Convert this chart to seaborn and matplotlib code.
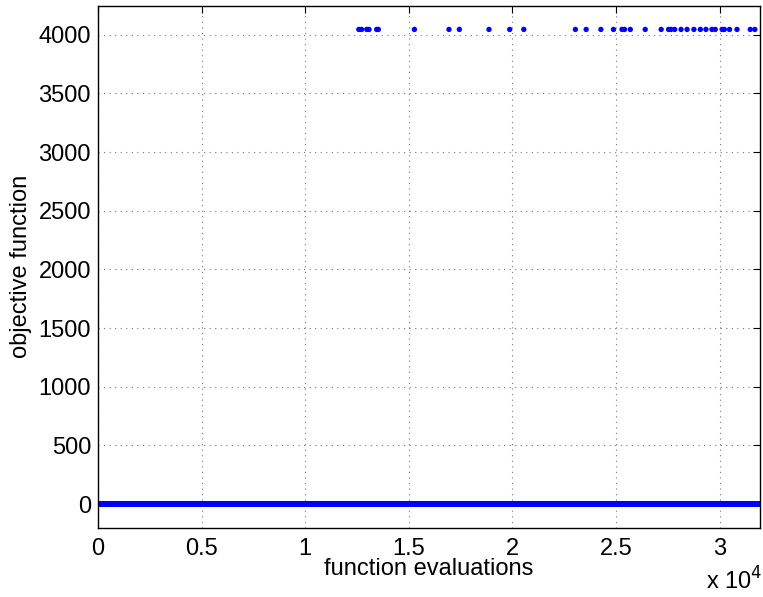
import numpy as np
import pandas as pd
import matplotlib
matplotlib.use("Agg")
import matplotlib.pyplot as plt
from matplotlib.ticker import FuncFormatter
import seaborn as sns

# ---- data ----
n_evaluations = 31950          # total number of function evaluations
base_value = 0                 # objective value of regular evaluations
penalty_value = 4046           # objective value of penalised evaluations
penalty_evals = [12590, 12720, 12970, 13080, 13450, 13530, 15270, 16940,
                 17440, 18870, 19870, 20550, 23040, 23560, 24270, 24880,
                 25290, 25410, 25690, 26410, 27180, 27540, 27650, 27830,
                 28140, 28430, 28760, 29070, 29340, 29630, 29790, 30120,
                 30230, 30480, 30840, 31480, 31700]
x_ticks = [0, 5000, 10000, 15000, 20000, 25000, 30000]
y_ticks = [0, 500, 1000, 1500, 2000, 2500, 3000, 3500, 4000]

evals = np.arange(1, n_evaluations + 1)
values = np.full(n_evaluations, base_value, dtype=float)
values[np.array(penalty_evals) - 1] = penalty_value
df = pd.DataFrame({"evaluation": evals, "objective": values})

sns.set_theme(style="white")
plt.rcParams["font.family"] = ["Liberation Sans", "DejaVu Sans"]
plt.rcParams["text.color"] = "black"
plt.rcParams["axes.labelcolor"] = "black"

fig = plt.figure(figsize=(7.63, 5.97), dpi=100)
ax = fig.add_axes([98 / 763, 1 - 528 / 597, (760 - 98) / 763, (528 - 5.5) / 597])

sns.scatterplot(data=df, x="evaluation", y="objective", ax=ax,
                color=(0, 0, 1), s=15, linewidth=0, edgecolor="none",
                legend=False)

ax.set_xlim(0, n_evaluations)
ax.set_ylim(-204, 4250)
ax.set_xticks(x_ticks)
ax.set_yticks(y_ticks)
ax.xaxis.set_major_formatter(FuncFormatter(lambda v, p: "%g" % (v / 1e4)))
ax.yaxis.set_major_formatter(FuncFormatter(lambda v, p: "%g" % v))

ax.grid(True, color="#777777", linestyle=(0, (1, 4)), linewidth=0.8)
for s in ax.spines.values():
    s.set_color("black")
    s.set_linewidth(1.0)
ax.tick_params(direction="in", length=5, width=0.8, top=True, right=True,
               labelsize=17, colors="black")
ax.tick_params(axis="x", pad=7)
ax.tick_params(axis="y", pad=5)

ax.set_xlabel("function evaluations", fontsize=17, labelpad=-1, color="black")
ax.set_ylabel("objective function", fontsize=17, labelpad=5, color="black")
fig.text(706 / 763, 1 - 590 / 597, r"x 10$^{4}$", fontsize=17,
         ha="left", va="baseline", color="black")

fig.savefig("out.png", dpi=100)
